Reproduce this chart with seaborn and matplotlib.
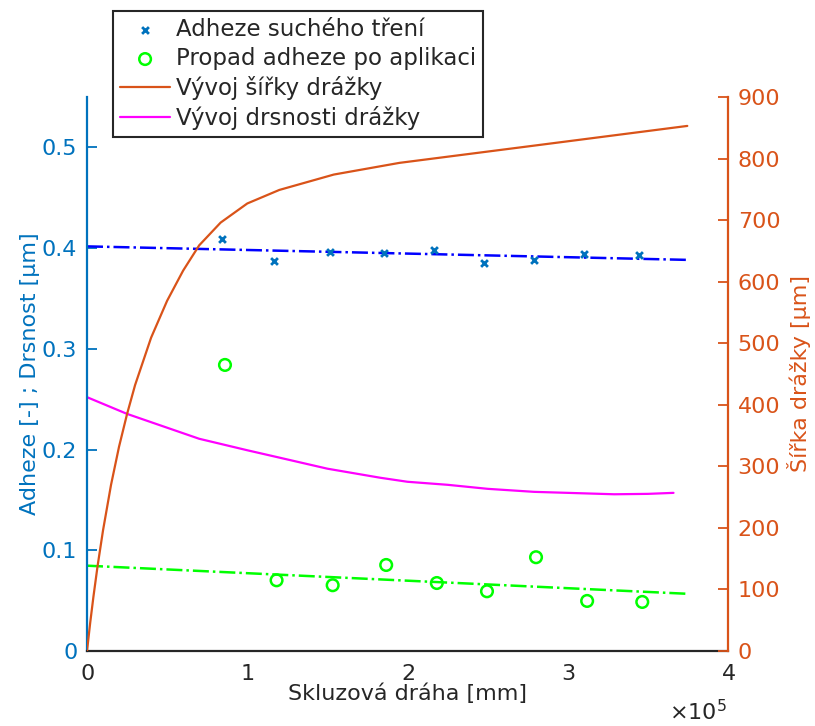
import matplotlib
matplotlib.use("Agg")
import numpy as np
import pandas as pd
import seaborn as sns
import matplotlib.pyplot as plt
from matplotlib.ticker import ScalarFormatter

# ------------------------------
# Data
# ------------------------------

# dry friction adhesion (left axis)
dry_x = [84400, 116600, 151900, 185500, 216250, 248000, 279000, 310400, 344600]
dry_y = [0.409, 0.387, 0.396, 0.395, 0.3986, 0.3854, 0.3883, 0.394, 0.3929]

# adhesion drop after application (left axis)
app_x = [86100, 118300, 153300, 186700, 218300, 249600, 280200, 312100, 346500]
app_y = [0.284, 0.0702, 0.0653, 0.0854, 0.0675, 0.0593, 0.0931, 0.0497, 0.0487]

# linear trend lines
fit_x = [0, 374600]
dry_fit = [0.4017, 0.3883]
app_fit = [0.0847, 0.0568]

# groove width (right axis)
width_x = [0, 2000, 4000, 6600, 10000, 15000, 20000, 25000, 30000, 40000,
           50000, 60000, 70000, 83400, 100000, 120000, 154000, 195000,
           279000, 374600]
width_y = [0, 46, 88, 138, 196, 270, 332, 385, 432, 509,
           569, 618, 659, 696, 727, 749, 774, 793,
           821, 853]

# groove roughness (left axis)
rough_x = [0, 25000, 70000, 100000, 120000, 150000, 183000, 200000, 225000,
           250000, 279000, 300000, 329000, 350000, 366000]
rough_y = [0.252, 0.2354, 0.2107, 0.1993, 0.192, 0.181, 0.172, 0.168, 0.165,
           0.161, 0.158, 0.157, 0.1556, 0.156, 0.157]

BLUE = "#0072BD"
ORANGE = "#D95319"
DARK = "#262626"
FS = 16

sns.set_theme(style="white")
plt.rcParams["font.family"] = ["DejaVu Sans"]

fig = plt.figure(figsize=(8.15, 7.26), dpi=100)
ax = fig.add_axes([87 / 815, 75 / 726, 641 / 815, 554 / 726])
ax2 = ax.twinx()

# ------------------------------
# Left axis
# ------------------------------

sns.scatterplot(x=dry_x, y=dry_y, ax=ax, marker="x", color=BLUE, s=24,
                linewidth=2, label="Adheze suchého tření", legend=False, zorder=4)
sns.scatterplot(x=app_x, y=app_y, ax=ax, marker="o", facecolor="none",
                edgecolor="#00FF00", s=70, linewidth=1.8,
                label="Propad adheze po aplikaci", legend=False, zorder=4)
sns.lineplot(x=fit_x, y=dry_fit, ax=ax, color="#0000FF", linestyle="-.",
             linewidth=1.8, legend=False)
sns.lineplot(x=fit_x, y=app_fit, ax=ax, color="#00FF00", linestyle="-.",
             linewidth=1.8, legend=False)
sns.lineplot(x=rough_x, y=rough_y, ax=ax, color="#FF00FF", linewidth=1.6,
             label="Vývoj drsnosti drážky", legend=False, sort=False)

# ------------------------------
# Right axis
# ------------------------------

sns.lineplot(x=width_x, y=width_y, ax=ax2, color=ORANGE, linewidth=1.6,
             label="Vývoj šířky drážky", legend=False, sort=False)

ax.set_xlim(0, 400000)
ax.set_ylim(0, 0.55)
ax2.set_ylim(0, 900)
ax.set_xticks([0, 100000, 200000, 300000, 400000])
ax.set_yticks([0, 0.1, 0.2, 0.3, 0.4, 0.5])
ax.set_yticklabels(["0", "0.1", "0.2", "0.3", "0.4", "0.5"])
ax2.set_yticks(range(0, 901, 100))

fmt = ScalarFormatter(useMathText=True)
fmt.set_powerlimits((0, 0))
ax.xaxis.set_major_formatter(fmt)
ax.xaxis.get_offset_text().set_visible(False)
fig.text(727 / 815, 2 / 726, r"$\times\mathdefault{10^{5}}$", ha="right",
         va="bottom", fontsize=FS, color=DARK)

for s in ["top", "right"]:
    ax.spines[s].set_visible(False)
for s in ["top", "left", "bottom"]:
    ax2.spines[s].set_visible(False)
ax.spines["left"].set_color(BLUE)
ax.spines["bottom"].set_color(DARK)
ax2.spines["right"].set_color(ORANGE)
for sp in [ax.spines["left"], ax.spines["bottom"], ax2.spines["right"]]:
    sp.set_linewidth(1.6)

ax.tick_params(axis="x", direction="in", length=7, width=1.3, colors=DARK,
               labelsize=FS, pad=9)
ax.tick_params(axis="y", direction="in", length=7, width=1.3, colors=BLUE,
               labelsize=FS, pad=7)
ax2.tick_params(axis="y", direction="in", length=7, width=1.3, colors=ORANGE,
                labelsize=FS, pad=7)

ax.set_xlabel("Skluzová dráha [mm]", fontsize=FS, color=DARK, labelpad=0)
ax.set_ylabel("Adheze [-] ; Drsnost [µm]", fontsize=FS, color=BLUE, labelpad=1)
ax2.set_ylabel("Šířka drážky [µm]", fontsize=FS, color=ORANGE, labelpad=5)

# ------------------------------
# Legend
# ------------------------------

h1, l1 = ax.get_legend_handles_labels()
h2, l2 = ax2.get_legend_handles_labels()
order = {lab: h for h, lab in zip(h1 + h2, l1 + l2)}
labels = ["Adheze suchého tření", "Propad adheze po aplikaci",
          "Vývoj šířky drážky", "Vývoj drsnosti drážky"]
leg = fig.legend([order[l] for l in labels], labels, loc="upper left",
                 bbox_to_anchor=(113 / 815, 1 - 11 / 726), fontsize=16.5,
                 frameon=True, fancybox=False, edgecolor=DARK,
                 framealpha=1, borderpad=0.3, labelspacing=0.27,
                 handlelength=2.2, handletextpad=0.25, borderaxespad=0)
leg.get_frame().set_linewidth(1.5)

fig.savefig("out.png", dpi=100)
